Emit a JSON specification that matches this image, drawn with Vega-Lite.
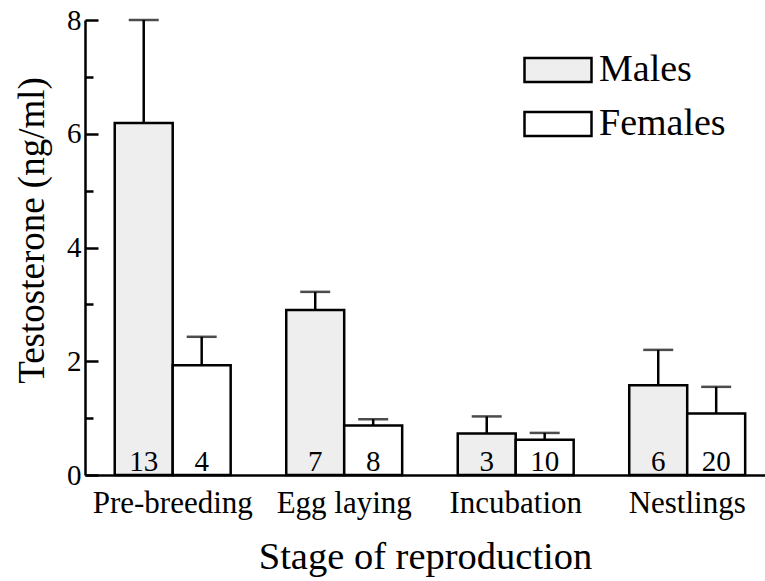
{
  "$schema": "https://vega.github.io/schema/vega-lite/v6.json",
  "autosize": "none",
  "width": 680,
  "height": 455,
  "padding": {"left": 85, "top": 20, "right": 0, "bottom": 106},
  "background": "white",
  "config": {
    "view": {"stroke": null},
    "font": "Liberation Serif",
    "text": {"font": "Liberation Serif"},
    "axis": {"grid": false, "domainColor": "black", "domainWidth": 2.5, "tickColor": "black", "tickWidth": 2.5, "labelColor": "black", "titleColor": "black", "labelFont": "Liberation Serif", "titleFont": "Liberation Serif", "titleFontWeight": "normal"},
    "legend": {"labelFont": "Liberation Serif"}
  },
  "data": {
    "values": [
      {"stage": "Pre-breeding", "sex": "Males", "mean": 6.19, "upper": 8.0, "n": "13"},
      {"stage": "Pre-breeding", "sex": "Females", "mean": 1.93, "upper": 2.43, "n": "4"},
      {"stage": "Egg laying", "sex": "Males", "mean": 2.9, "upper": 3.22, "n": "7"},
      {"stage": "Egg laying", "sex": "Females", "mean": 0.87, "upper": 0.98, "n": "8"},
      {"stage": "Incubation", "sex": "Males", "mean": 0.73, "upper": 1.03, "n": "3"},
      {"stage": "Incubation", "sex": "Females", "mean": 0.62, "upper": 0.74, "n": "10"},
      {"stage": "Nestlings", "sex": "Males", "mean": 1.58, "upper": 2.2, "n": "6"},
      {"stage": "Nestlings", "sex": "Females", "mean": 1.08, "upper": 1.55, "n": "20"}
    ]
  },
  "encoding": {
    "x": {
      "field": "stage", "type": "nominal",
      "sort": ["Pre-breeding", "Egg laying", "Incubation", "Nestlings"],
      "scale": {"paddingInner": 0.324, "paddingOuter": 0.1445, "align": 0.6},
      "axis": {"title": "Stage of reproduction", "labelAngle": 0, "ticks": false, "tickSize": 0, "labelFontSize": 31, "labelPadding": 13, "titleFontSize": 38.5, "titlePadding": 20}
    },
    "xOffset": {
      "field": "sex", "type": "nominal",
      "sort": ["Males", "Females"],
      "scale": {"paddingInner": 0, "paddingOuter": 0}
    }
  },
  "layer": [
    {
      "mark": {"type": "bar", "stroke": "black", "strokeWidth": 2.5},
      "encoding": {
        "y": {
          "field": "mean", "type": "quantitative",
          "scale": {"domain": [0, 8], "nice": false},
          "axis": {
            "title": "Testosterone (ng/ml)",
            "values": [0, 1, 2, 3, 4, 5, 6, 7, 8],
            "format": "d",
            "labelExpr": "datum.value % 2 === 0 ? datum.label : ''",
            "tickSize": {"condition": {"test": "datum.value % 2 === 0", "value": -13}, "value": -8},
            "labelFontSize": 29,
            "labelPadding": 17,
            "titleFontSize": 37,
            "titleAngle": -90,
            "titleBaseline": "alphabetic",
            "titleAlign": "center",
            "titleX": -42,
            "titleY": 210
          }
        },
        "fill": {
          "field": "sex", "type": "nominal",
          "sort": ["Males", "Females"],
          "scale": {"domain": ["Males", "Females"], "range": ["#eeeeee", "#ffffff"]},
          "legend": {
            "title": null,
            "orient": "none",
            "legendX": 438,
            "legendY": 15,
            "padding": 0,
            "symbolType": "M-1,-0.358H1V0.358H-1Z",
            "symbolSize": 4489,
            "symbolStrokeColor": "black",
            "symbolStrokeWidth": 2.5,
            "labelFontSize": 38,
            "labelOffset": 6,
            "labelColor": "black",
            "rowPadding": -4
          }
        }
      }
    },
    {
      "mark": {"type": "rule", "color": "black", "strokeWidth": 2.5},
      "encoding": {
        "y": {"field": "mean", "type": "quantitative"},
        "y2": {"field": "upper"}
      }
    },
    {
      "mark": {"type": "tick", "color": "black", "thickness": 2.5, "size": 30, "orient": "horizontal"},
      "encoding": {
        "y": {"field": "upper", "type": "quantitative"}
      }
    },
    {
      "mark": {"type": "text", "fontSize": 29, "baseline": "alphabetic", "dy": -4, "color": "black", "font": "Liberation Serif"},
      "encoding": {
        "y": {"datum": 0, "type": "quantitative"},
        "text": {"field": "n"}
      }
    }
  ]
}
